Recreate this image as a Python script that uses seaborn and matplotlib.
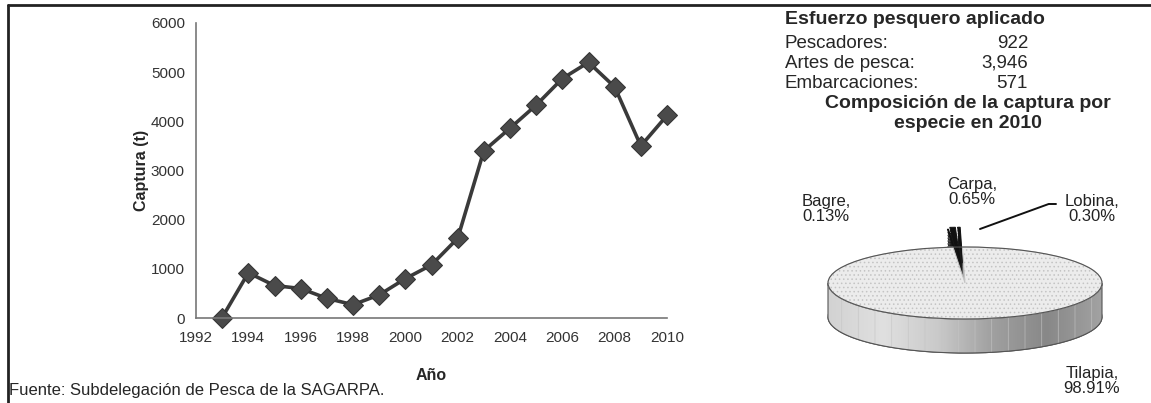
import numpy as np
import pandas as pd
import seaborn as sns
import matplotlib.pyplot as plt
from matplotlib.colors import LinearSegmentedColormap
from matplotlib.lines import Line2D
from matplotlib.patches import Polygon

# datos
years = [1993, 1994, 1995, 1996, 1997, 1998, 1999, 2000, 2001, 2002,
         2003, 2004, 2005, 2006, 2007, 2008, 2009, 2010]
captura = [10, 920, 660, 600, 400, 270, 470, 800, 1080, 1620,
           3400, 3860, 4330, 4870, 5200, 4700, 3500, 4120]
year_ticks = list(range(1992, 2011, 2))
y_ticks = [0, 1000, 2000, 3000, 4000, 5000, 6000]

esfuerzo_labels = ["Pescadores:", "Artes de pesca:", "Embarcaciones:"]
esfuerzo_values = ["922", "3,946", "571"]

especies = ["Bagre", "Carpa", "Lobina", "Tilapia"]
porcentajes = [0.13, 0.65, 0.30, 98.91]

W, H = 1151, 403
sns.set_style("white")
plt.rcParams['font.family'] = ['Liberation Sans', 'DejaVu Sans']

fig = plt.figure(figsize=(W / 100, H / 100), dpi=100)


def fx(px):
    return px / W


def fy(py):
    return 1 - py / H


# marco
fig.add_artist(Line2D([fx(8), 1.0], [fy(5), fy(5)], color="#222222", lw=2))
fig.add_artist(Line2D([fx(8), fx(8)], [fy(5), 0.0], color="#222222", lw=2))

# grafica de linea
ax = fig.add_axes([fx(196), fy(318), fx(667) - fx(196), fy(23) - fy(318)])
df = pd.DataFrame({"Año": years, "Captura (t)": captura})
sns.lineplot(data=df, x="Año", y="Captura (t)", ax=ax, color="#3a3a3a",
             linewidth=2.6, marker="D", markersize=10,
             markerfacecolor="#4a4a4a", markeredgecolor="#333333")
for ln in ax.lines:
    ln.set_clip_on(False)
ax.set_xlim(1992, 2010)
ax.set_ylim(0, 6000)
ax.set_xticks(year_ticks)
ax.set_yticks(y_ticks)
ax.tick_params(axis="x", direction="in", length=4, labelsize=11,
               colors="#333333", pad=9)
ax.tick_params(axis="y", direction="out", length=4, labelsize=11,
               colors="#333333", pad=4)
for s in ["top", "right"]:
    ax.spines[s].set_visible(False)
for s in ["left", "bottom"]:
    ax.spines[s].set_color("#777777")
    ax.spines[s].set_linewidth(1.2)
ax.set_xlabel("Año", fontsize=11.5, fontweight="bold")
ax.set_ylabel("Captura (t)", fontsize=11.5, fontweight="bold")
ax.xaxis.set_label_coords(0.5, -0.17)
ax.yaxis.set_label_coords(-0.1, 0.5)
ax.patch.set_alpha(0)

fig.text(fx(9), fy(391), "Fuente: Subdelegación de Pesca de la SAGARPA.",
         fontsize=12, va="center", ha="left")

# panel de texto
fig.text(fx(785), fy(20), "Esfuerzo pesquero aplicado", fontsize=14,
         fontweight="bold", va="center")
for i, (lab, val) in enumerate(zip(esfuerzo_labels, esfuerzo_values)):
    fig.text(fx(785), fy(43 + 20 * i), lab, fontsize=13.5, va="center")
    fig.text(fx(1028), fy(43 + 20 * i), val, fontsize=13.5, va="center",
             ha="right")
fig.text(fx(968), fy(103), "Composición de la captura por", fontsize=14,
         fontweight="bold", va="center", ha="center")
fig.text(fx(968), fy(123), "especie en 2010", fontsize=14,
         fontweight="bold", va="center", ha="center")

# pastel 3D
cx, cy, rx, ry = 965, 283, 137, 36
ax_l, ax_r, ax_t, ax_b = 790, 1140, 160, 400
pax = fig.add_axes([fx(ax_l), fy(ax_b), fx(ax_r) - fx(ax_l), fy(ax_t) - fy(ax_b)])
dz = 34 / ry
explode = [0.5, 0.55, 0.55, 0]
side_cols = ["#1a1a1a", "#1a1a1a", "#1a1a1a", "#a8a8a8"]
n_layers = 12
for k in range(n_layers, 0, -1):
    pax.pie(porcentajes, startangle=95, counterclock=False, explode=explode,
            center=(0, -dz * k / n_layers), colors=side_cols,
            wedgeprops=dict(linewidth=0.8 if k == n_layers else 0,
                            edgecolor="#444444"))

# sombreado lateral
t = np.linspace(np.pi, 2 * np.pi, 200)
verts = np.concatenate([np.c_[np.cos(t), np.sin(t)],
                        np.c_[np.cos(t[::-1]), np.sin(t[::-1]) - dz]])
side_poly = Polygon(verts, closed=True, facecolor="none", edgecolor="none")
pax.add_patch(side_poly)
cmap = LinearSegmentedColormap.from_list(
    "side", ["#d2d2d2", "#e0e0e0", "#cacaca", "#a0a0a0", "#888888", "#a2a2a2"])
grad = np.linspace(0, 1, 256)[None, :]
im = pax.imshow(grad, cmap=cmap, extent=(-1, 1, -1 - dz, 0), aspect="auto",
                zorder=2)
im.set_clip_path(side_poly)
plt.rcParams['hatch.linewidth'] = 0.6
stripes = Polygon(verts, closed=True, facecolor="none", edgecolor="#c4c4c4",
                  hatch="|", lw=0, zorder=2.5, alpha=0.7)
pax.add_patch(stripes)
pax.add_patch(Polygon(verts, closed=True, facecolor="none",
                      edgecolor="#555555", lw=0.8, zorder=2.6))

top_cols = ["#111111", "#111111", "#111111", "#ececec"]
wedges, _ = pax.pie(porcentajes, startangle=95, counterclock=False,
                    explode=explode, colors=top_cols,
                    wedgeprops=dict(linewidth=0.7, edgecolor="#c4c4c4"))
wedges[-1].set_hatch("....")
for w in wedges[:-1]:
    w.set_edgecolor("#111111")
wedges_o, _ = pax.pie(porcentajes[-1:], startangle=95, counterclock=False,
                      colors=["none"],
                      wedgeprops=dict(linewidth=0.8, edgecolor="#555555",
                                      fill=False))
for w in list(wedges) + list(wedges_o):
    w.set_zorder(3)
pax.set_aspect("auto")
pax.set_xlim(-(cx - ax_l) / rx, (ax_r - cx) / rx)
pax.set_ylim(-(ax_b - cy) / ry, (cy - ax_t) / ry)
pax.axis("off")

lab_pos = {"Bagre": (826, 209), "Carpa": (972, 192), "Lobina": (1092, 209),
           "Tilapia": (1092, 381)}
for name, pct in zip(especies, porcentajes):
    px, py = lab_pos[name]
    fig.text(fx(px), fy(py), f"{name},\n{pct:.2f}%", fontsize=12,
             ha="center", va="center", linespacing=1.0, color="#222222")

pax.annotate("", xy=((980 - cx) / rx, (cy - 229) / ry),
             xytext=((1056 - cx) / rx, (cy - 204) / ry),
             arrowprops=dict(arrowstyle="-", color="#111111", lw=1.4,
                             connectionstyle="angle,angleA=0,angleB=20,rad=0",
                             shrinkA=0, shrinkB=0))

fig.savefig("out.png", dpi=100)
